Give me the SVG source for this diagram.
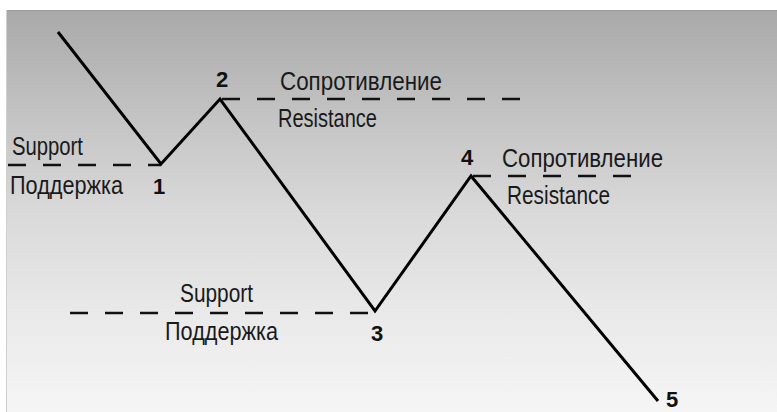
<svg xmlns="http://www.w3.org/2000/svg" width="777" height="412" viewBox="0 0 777 412">
  <defs>
    <linearGradient id="bg" x1="0" y1="0" x2="0" y2="1">
      <stop offset="0" stop-color="#a9a9a9"/>
      <stop offset="0.25" stop-color="#c2c2c2"/>
      <stop offset="0.5" stop-color="#d9d9d9"/>
      <stop offset="0.75" stop-color="#e9e9e9"/>
      <stop offset="1" stop-color="#f5f5f5"/>
    </linearGradient>
  </defs>
  <style>
    .lbl { font-family: "Liberation Sans", Arial, sans-serif; font-size: 25px; fill: #1a1a1a; }
    .num { font-family: "Liberation Sans", Arial, sans-serif; font-size: 22px; font-weight: bold; fill: #111; }
    .price { fill: none; stroke: #000; stroke-width: 3; stroke-linejoin: miter; stroke-linecap: butt; }
    .level { fill: none; stroke: #111; stroke-width: 2.5; stroke-dasharray: 18 17; }
  </style>
  <rect x="0" y="0" width="777" height="412" fill="#ffffff"/>
  <rect x="6" y="10" width="771" height="402" fill="url(#bg)"/>
  <line x1="6" y1="10.5" x2="777" y2="10.5" stroke="#9a9a9a" stroke-width="1"/>
  <line x1="6.5" y1="10" x2="6.5" y2="412" stroke="#cfcfcf" stroke-width="1"/>

  <g id="connectors">
    <line class="level" x1="8" y1="165" x2="161" y2="165"/>
    <line class="level" x1="222" y1="99" x2="525" y2="99"/>
    <line class="level" x1="70" y1="313" x2="376" y2="313"/>
    <line class="level" x1="473" y1="176" x2="640" y2="176"/>
    <polyline class="price" points="58,32 161,164 220,99 375,311 471,176 658,401"/>
  </g>

  <g id="point1">
    <text class="num" x="153" y="194">1</text>
  </g>
  <g id="point2">
    <text class="num" x="216" y="87">2</text>
  </g>
  <g id="point3">
    <text class="num" x="371" y="341">3</text>
  </g>
  <g id="point4">
    <text class="num" x="461" y="165">4</text>
  </g>
  <g id="point5">
    <text class="num" x="666" y="407">5</text>
  </g>

  <g id="support1">
    <text class="lbl" x="12" y="155" textLength="71" lengthAdjust="spacingAndGlyphs">Support</text>
    <text class="lbl" x="10" y="194" textLength="113" lengthAdjust="spacingAndGlyphs">Поддержка</text>
  </g>
  <g id="resistance2">
    <text class="lbl" x="280" y="90" textLength="162" lengthAdjust="spacingAndGlyphs">Сопротивление</text>
    <text class="lbl" x="278" y="127" textLength="99" lengthAdjust="spacingAndGlyphs">Resistance</text>
  </g>
  <g id="support3">
    <text class="lbl" x="180" y="302" textLength="73" lengthAdjust="spacingAndGlyphs">Support</text>
    <text class="lbl" x="165" y="340" textLength="113" lengthAdjust="spacingAndGlyphs">Поддержка</text>
  </g>
  <g id="resistance4">
    <text class="lbl" x="502" y="167" textLength="161" lengthAdjust="spacingAndGlyphs">Сопротивление</text>
    <text class="lbl" x="507" y="204" textLength="103" lengthAdjust="spacingAndGlyphs">Resistance</text>
  </g>
</svg>
